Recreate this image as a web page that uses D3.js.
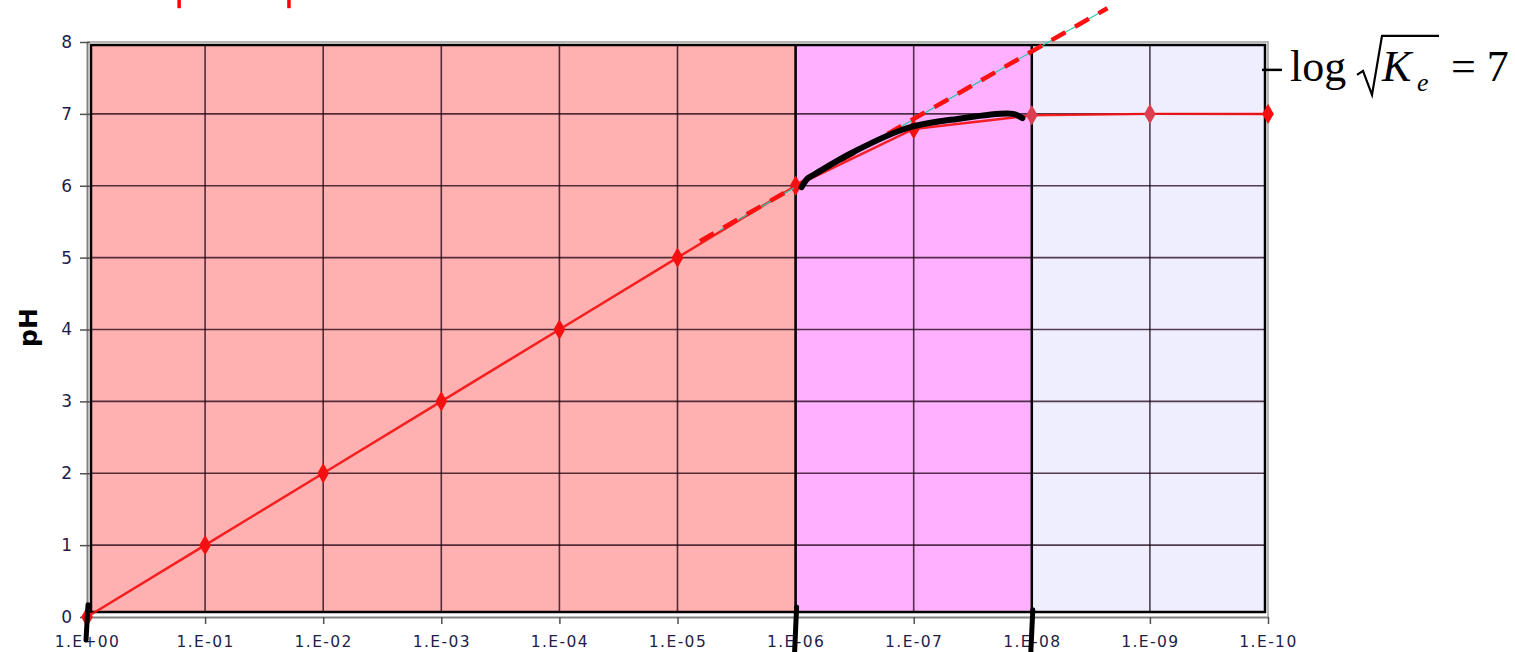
<!DOCTYPE html>
<html lang="en">
<head>
  <meta charset="UTF-8">
  <title>pH of a strong acid vs concentration</title>
  <script src="https://d3js.org/d3.v7.min.js"></script>
  <style>
    body { margin: 0; background: #fff; font-family: "DejaVu Sans", Verdana, sans-serif; }
    .formula { font-family: "Liberation Serif", "Times New Roman", serif; fill: #000; }
  </style>
</head>
<body>
<svg width="1515" height="652"></svg>

<script>
// concentrations (mol/L) on the x axis, one category per decade
const concLabels = ["1.E+00", "1.E-01", "1.E-02", "1.E-03", "1.E-04", "1.E-05",
                    "1.E-06", "1.E-07", "1.E-08", "1.E-09", "1.E-10"];
const phValues = [0, 1, 2, 3, 4, 5, 6, 6.79, 6.98, 7.0, 7.0];
const yTicks = [0, 1, 2, 3, 4, 5, 6, 7, 8];

// coloured zones (in decade index)
const zoneStart = [0, 6, 8];
const zoneEnd = [6, 8, 10];
const zoneColor = ["#ffb0b0", "#ffb0ff", "#eeeeff"];

// hand drawn annotations, in (decade index, pH)
const tangentX = [5.19, 8.64];
const tangentY = [5.23, 8.47];
const guideX = [5.36, 8.64];
const guideY = [5.38, 8.47];
const sketchX = [6.05, 6.1, 6.15, 6.49, 6.94, 7.37, 7.84, 7.92];
const sketchY = [5.98, 6.1, 6.15, 6.47, 6.80, 6.93, 7.00, 6.94];
const markX = [0, 6, 8];
const markTop = [0.17, 0.14, 0.10];
const markBottom = [-0.32, -0.49, -0.49];
const topMarkX = [0.78, 1.71];

const svg = d3.select("svg"),
      margin = { top: 42, right: 247, bottom: 35, left: 87 },
      width = +svg.attr("width") - margin.left - margin.right,
      height = +svg.attr("height") - margin.top - margin.bottom,
      g = svg.append("g").attr("transform", `translate(${margin.left},${margin.top})`);

const x = d3.scaleLinear().domain([0, concLabels.length - 1]).range([0, width]);
const y = d3.scaleLinear().domain([0, 8]).range([height, 0]);

// box of the coloured zones sits a little inside the axis frame
const box = { left: 4, top: 3, right: width - 3, bottom: height - 5 };
const clampX = v => Math.max(box.left, Math.min(box.right, v));

// zones
g.selectAll(".zone")
  .data(zoneStart)
  .enter().append("rect")
  .attr("class", "zone")
  .attr("x", (d, i) => clampX(x(d)))
  .attr("y", box.top)
  .attr("width", (d, i) => clampX(x(zoneEnd[i])) - clampX(x(d)))
  .attr("height", box.bottom - box.top)
  .attr("fill", (d, i) => zoneColor[i]);

// grid
const grid = g.append("g").attr("stroke", "#1a0010").attr("stroke-opacity", 0.75).attr("stroke-width", 1.6);
grid.selectAll("line.v")
  .data(d3.range(1, concLabels.length - 1))
  .enter().append("line")
  .attr("x1", d => x(d)).attr("x2", d => x(d))
  .attr("y1", box.top).attr("y2", box.bottom);
grid.selectAll("line.h")
  .data(yTicks.slice(1, -1))
  .enter().append("line")
  .attr("x1", box.left).attr("x2", box.right)
  .attr("y1", d => y(d)).attr("y2", d => y(d));

// zone borders
g.append("rect")
  .attr("x", box.left).attr("y", box.top)
  .attr("width", box.right - box.left).attr("height", box.bottom - box.top)
  .attr("fill", "none").attr("stroke", "#000").attr("stroke-width", 2.5);
g.selectAll(".divider")
  .data(zoneStart.slice(1))
  .enter().append("line")
  .attr("x1", d => x(d)).attr("x2", d => x(d))
  .attr("y1", box.top).attr("y2", box.bottom)
  .attr("stroke", "#000").attr("stroke-width", 2.5);

// frame (top + right) in grey
g.append("path")
  .attr("d", `M0,0H${width}V${height}`)
  .attr("fill", "none").attr("stroke", "#a0a0a0").attr("stroke-width", 1.5);

// Axes
const xAxis = g.append("g")
  .attr("transform", `translate(0,${height})`)
  .call(d3.axisBottom(x)
    .tickValues(d3.range(concLabels.length))
    .tickFormat(i => concLabels[i])
    .tickSizeInner(7).tickSizeOuter(0).tickPadding(12));

const yAxis = g.append("g")
  .call(d3.axisLeft(y)
    .tickValues(yTicks)
    .tickSizeInner(7).tickSizeOuter(0).tickPadding(8));

[xAxis, yAxis].forEach(a => {
  a.attr("font-family", "DejaVu Sans, Verdana, sans-serif").attr("font-size", 17);
  a.select(".domain").attr("stroke", "#808080").attr("stroke-width", 2);
  a.selectAll(".tick line").attr("stroke", "#505050").attr("stroke-width", 1.5);
  a.selectAll(".tick text").attr("fill", "#1e1e48");
});
xAxis.selectAll(".tick text").attr("letter-spacing", "1.4px").attr("font-size", 15.5);
yAxis.selectAll(".tick line").attr("x2", -7).attr("x1", 3);

g.append("text")
  .attr("transform", "rotate(-90)")
  .attr("x", -(y(4) - 2))
  .attr("y", -50)
  .attr("text-anchor", "middle")
  .attr("font-family", "DejaVu Sans, sans-serif")
  .attr("font-size", 25)
  .attr("font-weight", "bold")
  .text("pH");

// data series
const line = d3.line()
  .x((d, i) => x(i))
  .y(d => y(d));

g.append("path")
  .datum(phValues)
  .attr("d", line)
  .attr("fill", "none")
  .attr("stroke", "#f41010")
  .attr("stroke-opacity", 0.9)
  .attr("stroke-width", 2.5);

g.selectAll(".pt")
  .data(phValues)
  .enter().append("path")
  .attr("class", "pt")
  .attr("transform", (d, i) => `translate(${x(i)},${y(d)})`)
  .attr("d", d3.symbol().type(d3.symbolDiamond).size(120))
  .attr("fill", (d, i) => i >= 8 && i < phValues.length - 1 ? "#dc4050" : "#f41010");

// tangent: thin guide + red dashes
const pairLine = d3.line().x(d => x(d[0])).y(d => y(d[1]));
g.append("path")
  .attr("d", pairLine(d3.zip(guideX, guideY)))
  .attr("stroke", "#2cc8a8").attr("stroke-width", 1.2).attr("fill", "none");
g.append("path")
  .attr("d", pairLine(d3.zip(tangentX, tangentY)))
  .attr("stroke", "#ff1010").attr("stroke-width", 4.5)
  .attr("stroke-dasharray", "16 11").attr("fill", "none");

// hand drawn curve
g.append("path")
  .attr("d", d3.line().curve(d3.curveCatmullRom)
    .x(d => x(d[0])).y(d => y(d[1]))(d3.zip(sketchX, sketchY)))
  .attr("fill", "none").attr("stroke", "#000")
  .attr("stroke-width", 6).attr("stroke-linecap", "round").attr("stroke-linejoin", "round");

// hand drawn ticks on the x axis
g.selectAll(".mark")
  .data(markX)
  .enter().append("line")
  .attr("x1", d => x(d) + 1).attr("x2", d => x(d) - 1)
  .attr("y1", (d, i) => y(markTop[i])).attr("y2", (d, i) => y(markBottom[i]))
  .attr("stroke", "#000").attr("stroke-width", 5).attr("stroke-linecap", "round");

// red fragments at the top edge
g.selectAll(".topmark")
  .data(topMarkX)
  .enter().append("line")
  .attr("x1", d => x(d)).attr("x2", d => x(d))
  .attr("y1", -margin.top).attr("y2", y(8.47))
  .attr("stroke", "#ff0000").attr("stroke-width", 3.5);

// formula: -log sqrt(Ke) = 7, placed right of the pH = 7 level
const f = svg.append("g")
  .attr("class", "formula")
  .attr("transform", `translate(${margin.left + width - 6},${margin.top + y(7) - 44})`);
f.append("line").attr("x1", 0).attr("x2", 20).attr("y1", 0).attr("y2", 0)
  .attr("stroke", "#000").attr("stroke-width", 2.5);
f.append("text").attr("x", 28).attr("y", 11).attr("font-size", 44).text("log");
f.append("path")
  .attr("d", "M95,5 L101,1 L110,25 L120,-34 L177,-34")
  .attr("fill", "none").attr("stroke", "#000").attr("stroke-width", 2.2);
f.append("text").attr("x", 120).attr("y", 11).attr("font-size", 44)
  .attr("font-style", "italic").text("K");
f.append("text").attr("x", 155).attr("y", 21).attr("font-size", 26)
  .attr("font-style", "italic").text("e");
f.append("text").attr("x", 189).attr("y", 11).attr("font-size", 44).text("= 7");
</script>
</body>
</html>
